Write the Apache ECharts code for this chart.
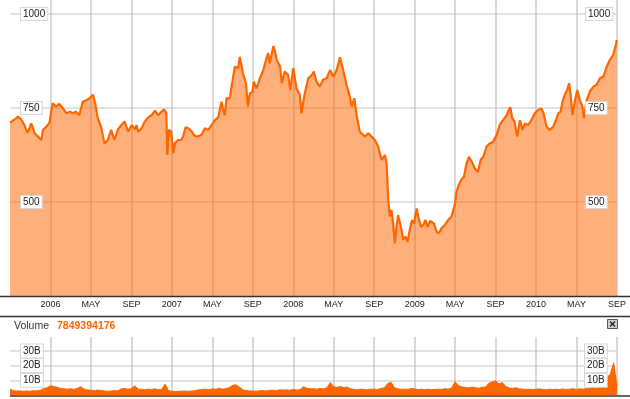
<!DOCTYPE html>
<html>
<head>
    <meta charset="utf-8">
    <title>Price / Volume</title>
    <script type="text/javascript" src="https://cdn.jsdelivr.net/npm/echarts@6/dist/echarts.min.js"></script>
    <style>
        html, body { margin:0; padding:0; background:#fff; }
        #chart { width:630px; height:399px; }
    </style>
</head>
<body>
<div id="chart"></div>
<script type="text/javascript">
// closing values
var priceDates = [
    '2005-09-01','2005-09-15','2005-09-25','2005-10-04','2005-10-14','2005-10-24','2005-11-04','2005-11-14','2005-11-24','2005-12-04',
    '2005-12-09','2005-12-19','2005-12-29','2006-01-03','2006-01-08','2006-01-18','2006-01-28','2006-02-08','2006-02-17','2006-02-27',
    '2006-03-08','2006-03-17','2006-03-27','2006-04-07','2006-04-17','2006-04-27','2006-05-07','2006-05-14','2006-05-22','2006-06-01',
    '2006-06-11','2006-06-21','2006-07-01','2006-07-11','2006-07-21','2006-08-01','2006-08-11','2006-08-22','2006-09-02','2006-09-12',
    '2006-09-16','2006-09-21','2006-10-01','2006-10-11','2006-10-21','2006-11-01','2006-11-11','2006-11-20','2006-11-30','2006-12-08',
    '2006-12-15','2006-12-18','2006-12-23','2006-12-30','2007-01-05','2007-01-10','2007-01-20','2007-01-30','2007-02-04','2007-02-11',
    '2007-02-19','2007-02-28','2007-03-09','2007-03-19','2007-03-29','2007-04-09','2007-04-19','2007-04-29','2007-05-09','2007-05-19',
    '2007-05-29','2007-06-03','2007-06-08','2007-06-13','2007-06-23','2007-06-28','2007-07-08','2007-07-18','2007-07-23','2007-08-02',
    '2007-08-11','2007-08-17','2007-08-23','2007-08-31','2007-09-04','2007-09-12','2007-09-22','2007-10-02','2007-10-12','2007-10-17',
    '2007-10-22','2007-11-02','2007-11-07','2007-11-12','2007-11-22','2007-11-27','2007-12-06','2007-12-16','2007-12-23','2008-01-01',
    '2008-01-11','2008-01-21','2008-01-26','2008-02-05','2008-02-15','2008-02-25','2008-03-02','2008-03-10','2008-03-20','2008-03-30',
    '2008-04-10','2008-04-20','2008-04-30','2008-05-10','2008-05-20','2008-05-30','2008-06-09','2008-06-19','2008-06-24','2008-07-02',
    '2008-07-09','2008-07-19','2008-08-04','2008-08-14','2008-08-24','2008-09-03','2008-09-13','2008-09-23','2008-10-03','2008-10-08',
    '2008-10-13','2008-10-18','2008-10-23','2008-10-28','2008-11-02','2008-11-07','2008-11-12','2008-11-17','2008-11-22','2008-11-27',
    '2008-12-04','2008-12-10','2008-12-17','2008-12-24','2008-12-30','2009-01-07','2009-01-12','2009-01-20','2009-01-27','2009-02-03',
    '2009-02-09','2009-02-16','2009-02-26','2009-03-06','2009-03-13','2009-03-21','2009-04-01','2009-04-10','2009-04-20','2009-04-30',
    '2009-05-05','2009-05-12','2009-05-20','2009-05-28','2009-06-05','2009-06-12','2009-06-21','2009-06-29','2009-07-09','2009-07-17',
    '2009-07-26','2009-08-04','2009-08-14','2009-08-24','2009-09-04','2009-09-13','2009-09-23','2009-10-04','2009-10-08','2009-10-15',
    '2009-10-21','2009-10-28','2009-11-05','2009-11-13','2009-11-21','2009-11-28','2009-12-08','2009-12-18','2009-12-28','2010-01-07',
    '2010-01-17','2010-01-24','2010-02-02','2010-02-11','2010-02-20','2010-02-28','2010-03-07','2010-03-14','2010-03-20','2010-03-27',
    '2010-04-03','2010-04-09','2010-04-14','2010-04-19','2010-04-26','2010-05-03','2010-05-11','2010-05-19','2010-05-24','2010-06-01',
    '2010-06-11','2010-06-21','2010-06-30','2010-07-11','2010-07-21','2010-07-31','2010-08-10','2010-08-20','2010-08-30','2010-08-31'
];
var priceClose = [
    711,720,727,720,705,684,709,683,674,665,
    692,700,711,740,763,754,761,749,736,740,
    736,740,731,767,771,776,785,763,723,700,
    656,665,692,665,692,705,714,687,705,693,
    705,687,696,714,725,731,743,731,740,747,
    736,625,692,687,630,656,665,665,674,699,
    696,687,676,674,678,696,692,705,718,725,
    767,745,731,776,776,807,860,856,886,842,
    816,754,789,793,820,802,829,851,882,896,
    869,915,900,878,860,816,847,838,798,856,
    802,785,736,789,829,838,847,820,807,825,
    829,851,833,851,885,851,811,780,754,776,
    731,687,674,683,674,665,647,612,625,603,
    505,461,479,443,390,434,465,461,426,399,
    408,394,426,452,443,483,461,434,439,452,
    434,450,443,421,417,430,439,452,461,492,
    527,545,559,567,603,620,606,590,580,612,
    621,647,656,660,678,705,718,731,740,752,
    723,714,674,718,692,709,705,718,736,745,
    749,736,700,692,700,718,736,740,767,785,
    798,816,780,731,767,798,771,754,723,771,
    795,807,811,830,833,859,878,891,923,931
];

// volume in billions, taken on the 1st, 11th and 21st of each month from Sep 2005
var volDays = [1, 11, 21];
var volumes = [
    4.0,3.0,2.7, 2.8,2.5,2.7, 2.6,2.9,2.8, 3.2,4.5,5.0,
    6.3,5.8,5.2, 4.5,4.2,4.0, 4.3,3.8,4.6, 5.6,4.0,3.5, 3.2,3.0,3.4, 3.0,2.8,2.6, 2.7,3.0,2.8, 4.2,4.4,4.0,
    4.3,6.3,4.0, 3.9,3.6,4.0, 3.8,4.2,3.6, 4.0,7.4,3.0,
    2.6,2.4,2.5, 2.6,2.7,2.5, 2.7,3.0,3.5, 3.8,4.0,3.6, 4.2,3.9,4.6, 4.0,4.4,5.0, 6.5,7.0,5.5, 3.6,3.0,2.8,
    2.8,2.6,2.9, 3.0,2.8,3.2, 3.3,3.0,3.6, 3.4,3.5,3.2,
    3.8,3.4,3.6, 5.6,4.6,4.2, 4.3,4.0,4.5, 4.2,5.0,8.5, 5.6,5.2,5.8, 5.0,5.4,4.2, 3.9,3.6,4.0, 3.7,3.5,3.9,
    4.0,3.8,4.4, 5.0,7.8,8.7, 5.0,4.2,3.9, 4.0,3.8,4.5,
    4.2,3.7,3.9, 3.6,3.9,3.7, 3.8,4.0,3.9, 4.3,4.0,5.0, 9.0,6.5,5.5, 5.2,4.8,5.4, 5.0,4.6,5.2, 5.5,8.0,9.0,
    9.6,7.5,8.5, 5.8,4.8,4.5, 5.0,4.2,4.0, 3.8,4.0,3.7,
    3.9,4.2,3.8, 3.6,4.0,3.7, 3.9,3.8,4.1, 3.7,4.0,4.3, 3.8,4.2,4.0, 4.5,4.8,5.0, 4.6,5.2,6.0, 12.0,14.0,22.0,
    6.0
];
var lastVolume = '7849394176';

var monthNames = {0:'SEP', 8:'MAY'};

// months since 2005-09-01, used as x on a value axis
function monthIdx(y, m, d) {
    var dim = new Date(y, m, 0).getDate();
    return (y - 2005) * 12 + (m - 9) + (d - 1) / dim;
}
function dateToIdx(s) {
    var p = s.split('-').map(Number);
    return monthIdx(p[0], p[1], p[2]);
}

var priceData = priceDates.map(function (d, i) { return [dateToIdx(d), priceClose[i]]; });
var volData = volumes.map(function (v, i) {
    var m = Math.floor(i / 3);
    return [m + (volDays[i % 3] - 1) / 30, v];
});

function xLabel(v) {
    var r = ((v % 12) + 12) % 12;
    if (r === 4) return String(2005 + (v + 8) / 12);
    return monthNames[r] || '';
}

var FONT = 'Liberation Sans, Arial, sans-serif';
var GRID_COLOR = 'rgba(185,185,185,0.55)';

function labelAxis(grid, pos, min, max, interval, margin, fmt, pad) {
    return {
        type: 'value', gridIndex: grid, position: pos, min: min, max: max, interval: interval, z: 10,
        axisLine: {show: false}, axisTick: {show: false}, splitLine: {show: false},
        axisLabel: {
            inside: true, margin: margin, align: 'left', formatter: fmt,
            fontSize: 10, fontFamily: FONT, color: '#222',
            backgroundColor: '#fff', borderColor: '#d6d6d6', borderWidth: 1, padding: pad,
            showMinLabel: false, showMaxLabel: false
        }
    };
}
function gridAxis(grid, min, max, interval) {
    return {
        type: 'value', gridIndex: grid, min: min, max: max, interval: interval, z: 3,
        axisLine: {show: false}, axisTick: {show: false}, axisLabel: {show: false},
        splitLine: {show: true, showMinLine: false, showMaxLine: false, lineStyle: {color: GRID_COLOR, width: 1.5}}
    };
}
function plain(v) { return String(v); }
function billions(v) { return v + 'B'; }

var myChart = echarts.init(document.getElementById('chart'), null, {renderer: 'canvas'});

var option = {
    animation: false,
    backgroundColor: '#fff',
    grid: [
        {left: 10, top: 0, width: 607, height: 296, outerBoundsMode: 'none'},
        {left: 10, top: 337, width: 607, height: 58, outerBoundsMode: 'none'}
    ],
    xAxis: [
        {
            type: 'value', gridIndex: 0, min: 0, max: 60, interval: 4, z: 3,
            axisLine: {show: false}, axisTick: {show: false},
            axisLabel: {
                formatter: xLabel, margin: 4, fontSize: 9, color: '#222', fontFamily: FONT,
                showMinLabel: false, showMaxLabel: true
            },
            splitLine: {show: true, showMinLine: false, lineStyle: {color: GRID_COLOR, width: 2}}
        },
        {
            type: 'value', gridIndex: 1, min: 0, max: 60, interval: 4, z: 3,
            axisLine: {show: false}, axisTick: {show: false}, axisLabel: {show: false},
            splitLine: {show: true, showMinLine: false, lineStyle: {color: GRID_COLOR, width: 2}}
        }
    ],
    yAxis: [
        gridAxis(0, 250, 1037.4, 250),
        labelAxis(0, 'left', 250, 1037.4, 250, 11, plain, [1, 2, 1, 2]),
        labelAxis(0, 'right', 250, 1037.4, 250, 31, plain, [1, 2, 1, 2]),
        gridAxis(1, 0, 39.5, 10),
        labelAxis(1, 'left', 0, 39.5, 10, 11, billions, [2, 2, 1, 2]),
        labelAxis(1, 'right', 0, 39.5, 10, 32, billions, [2, 2, 1, 2])
    ],
    series: [
        {
            type: 'line', xAxisIndex: 0, yAxisIndex: 0,
            data: priceData, showSymbol: false, silent: true,
            lineStyle: {color: '#ff6600', width: 2.2},
            areaStyle: {color: '#ff6600', opacity: 0.52, origin: 'start'}
        },
        {
            type: 'line', xAxisIndex: 1, yAxisIndex: 3,
            data: volData, showSymbol: false, silent: true,
            lineStyle: {color: '#ff6600', width: 1},
            areaStyle: {color: '#ff6600', opacity: 1, origin: 'start'}
        }
    ],
    graphic: [
        {type: 'line', shape: {x1: 0, y1: 296.5, x2: 630, y2: 296.5}, style: {stroke: '#333', lineWidth: 1.5}, z: 100},
        {type: 'line', shape: {x1: 0, y1: 316.5, x2: 630, y2: 316.5}, style: {stroke: '#333', lineWidth: 1.5}, z: 100},
        {type: 'line', shape: {x1: 10, y1: 396, x2: 630, y2: 396}, style: {stroke: '#333', lineWidth: 1.5}, z: 100},
        {type: 'text', left: 14, top: 321, style: {text: 'Volume', fontSize: 10.5, fill: '#333', fontFamily: FONT}},
        {type: 'text', left: 57, top: 321, style: {text: lastVolume, fontSize: 10.5, fontWeight: 'bold', fill: '#ff6600', fontFamily: FONT}},
        {type: 'rect', shape: {x: 607.5, y: 319.5, width: 10, height: 9}, style: {fill: '#cfcfcf', stroke: '#555', lineWidth: 1}},
        {type: 'line', shape: {x1: 610, y1: 321.5, x2: 615, y2: 326.5}, style: {stroke: '#222', lineWidth: 1.2}},
        {type: 'line', shape: {x1: 615, y1: 321.5, x2: 610, y2: 326.5}, style: {stroke: '#222', lineWidth: 1.2}}
    ]
};

myChart.setOption(option);
</script>
</body>
</html>
